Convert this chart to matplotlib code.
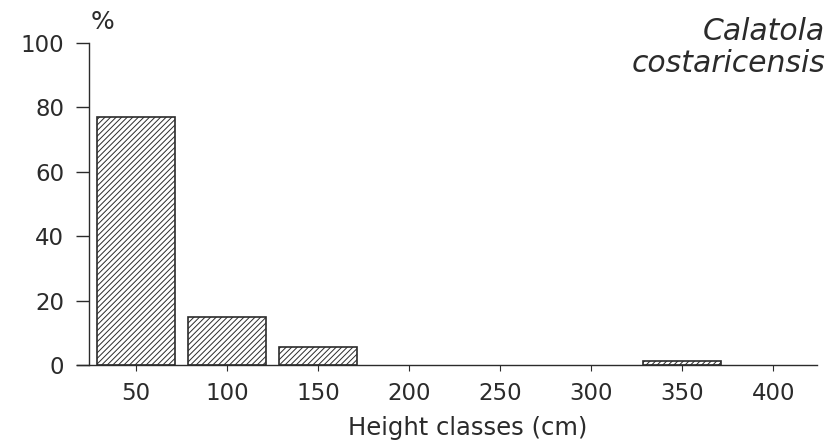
import matplotlib
matplotlib.use("Agg")
import matplotlib.pyplot as plt

# ---------------------------------------------------------------------------
# Data
# ---------------------------------------------------------------------------
height_classes = [50, 100, 150, 200, 250, 300, 350, 400]
percent = [77, 15, 5.5, 0, 0, 0, 1.2, 0]
y_ticks = [0, 20, 40, 60, 80, 100]

INK = "#2b2b2b"
plt.rcParams["font.family"] = ["DejaVu Sans"]
plt.rcParams["hatch.linewidth"] = 0.7
plt.rcParams["hatch.color"] = INK

fig = plt.figure(figsize=(8.32, 4.43), dpi=100)
ax = fig.add_axes([0.0925, 0.176, 0.8895, 0.727])

# empty classes leave no outline on the axis
edge_w = [1.2 if p > 0 else 0 for p in percent]
ax.bar(height_classes, percent, width=43, color="white",
       edgecolor=INK, linewidth=edge_w, hatch="//////")

ax.set_xlim(17.6, 424)
ax.set_ylim(0, 100)

ax.spines[["top", "right"]].set_visible(False)
ax.spines["left"].set_position(("data", 24))
ax.spines["left"].set_bounds(0, 100)
for s in ("left", "bottom"):
    ax.spines[s].set_color(INK)
    ax.spines[s].set_linewidth(1.0)

ax.set_xticks(height_classes)
ax.set_xticklabels([str(v) for v in height_classes])
ax.set_yticks(y_ticks)
ax.tick_params(axis="y", direction="out", length=9.5, width=1.0, color=INK,
               labelsize=16.5, labelcolor=INK, pad=8)
ax.tick_params(axis="x", direction="out", length=4, width=0.8, color=INK,
               labelsize=16.5, labelcolor=INK, pad=8)

ax.set_xlabel("Height classes (cm)", fontsize=17.5, color=INK)
ax.xaxis.set_label_coords(0.528, -0.195)
ax.xaxis.label.set_va("center")

fig.text(0.123, 0.95, "%", fontsize=18, color=INK, ha="center", va="center")
fig.text(0.992, 0.928, "Calatola", fontsize=21.5, style="italic",
         color=INK, ha="right", va="center")
fig.text(0.992, 0.857, "costaricensis", fontsize=21.5, style="italic",
         color=INK, ha="right", va="center")

fig.savefig("out.png", dpi=100, facecolor="white")
